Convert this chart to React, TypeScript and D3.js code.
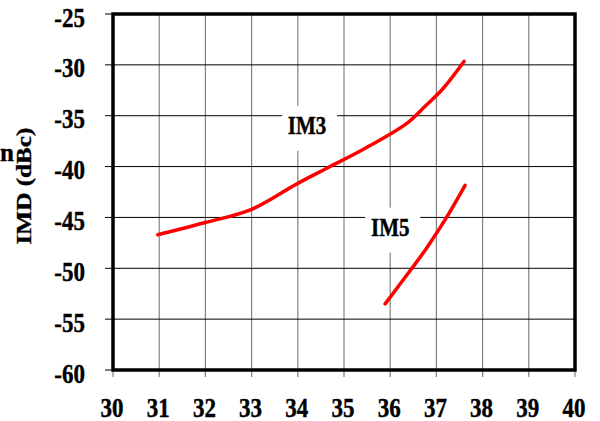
import React, { useRef, useEffect } from 'react';
import * as d3 from 'd3';

// Data
const xTicks = [30, 31, 32, 33, 34, 35, 36, 37, 38, 39, 40];
const yTicks = [-25, -30, -35, -40, -45, -50, -55, -60];

const im3X = [30.97, 32.0, 33.0, 33.98, 34.7, 35.38, 36.36, 36.75, 37.15, 37.6];
const im3Y = [-46.7, -45.5, -44.2, -41.7, -40.0, -38.4, -35.75, -34.1, -32.3, -29.65];

const im5X = [35.89, 36.47, 36.79, 37.22, 37.62];
const im5Y = [-53.5, -50.0, -48.0, -45.0, -41.85];

const seriesLabels = [
  { text: 'IM3', x: 34.2, y: -36.0 },
  { text: 'IM5', x: 36.0, y: -46.0 },
];

const FONT = '"Liberation Serif", "Times New Roman", serif';

const App: React.FC = () => {
  const svgRef = useRef<SVGSVGElement>(null);

  useEffect(() => {
    if (!svgRef.current) return;
    const svg = d3.select(svgRef.current);
    svg.selectAll('*').remove();

    const margin = { top: 14, right: 25, bottom: 51, left: 113 };
    const width = 600 - margin.left - margin.right;
    const height = 421 - margin.top - margin.bottom;

    const x = d3.scaleLinear().domain([30, 40]).range([0, width]);
    const y = d3.scaleLinear().domain([-60, -25]).range([height, 0]);

    const g = svg.append('g').attr('transform', `translate(${margin.left},${margin.top})`);

    // grid (extends past the frame as tick marks)
    g.selectAll('.vgrid')
      .data(xTicks)
      .enter()
      .append('line')
      .attr('x1', d => x(d))
      .attr('x2', d => x(d))
      .attr('y1', 0)
      .attr('y2', height + 7)
      .attr('stroke', '#808080')
      .attr('stroke-width', 1.2);

    g.selectAll('.hgrid')
      .data(yTicks)
      .enter()
      .append('line')
      .attr('x1', -8)
      .attr('x2', width)
      .attr('y1', d => y(d))
      .attr('y2', d => y(d))
      .attr('stroke', '#000')
      .attr('stroke-width', 1);

    const boldText = (sel: d3.Selection<SVGTextElement, any, any, any>, size: number) =>
      sel.attr('font-family', FONT)
        .attr('font-weight', 'bold')
        .attr('font-size', `${size}px`)
        .attr('fill', '#000')
        .attr('stroke', '#000')
        .attr('stroke-width', 0.35);

    // series labels with white boxes (text is stretched vertically like the source)
    seriesLabels.forEach(l => {
      const cx = x(l.x);
      const cy = y(l.y);
      g.append('rect')
        .attr('x', cx - 25)
        .attr('y', cy - 20)
        .attr('width', 55)
        .attr('height', 45)
        .attr('fill', '#fff');
      boldText(
        g.append('text')
          .attr('transform', `translate(${cx},${cy + 8}) scale(1,1.2)`)
          .attr('text-anchor', 'middle'),
        21
      ).text(l.text);
    });

    // curves
    const line = d3.line<[number, number]>()
      .x(d => x(d[0]))
      .y(d => y(d[1]))
      .curve(d3.curveCatmullRom.alpha(0.5));

    [[im3X, im3Y], [im5X, im5Y]].forEach(([xs, ys]) => {
      const pts = xs.map((v, i) => [v, ys[i]] as [number, number]);
      g.append('path')
        .attr('d', line(pts))
        .attr('fill', 'none')
        .attr('stroke', '#ff0000')
        .attr('stroke-width', 3.5)
        .attr('stroke-linecap', 'round')
        .attr('stroke-linejoin', 'round');
    });

    // tick labels
    boldText(
      g.selectAll('.xlab')
        .data(xTicks)
        .enter()
        .append('text')
        .attr('transform', d => `translate(${x(d) - 1},${height + 47}) scale(1,1.2)`)
        .attr('text-anchor', 'middle') as any,
      23
    ).text((d: number) => String(d));

    boldText(
      g.selectAll('.ylab')
        .data(yTicks)
        .enter()
        .append('text')
        .attr('transform', d => `translate(-28,${y(d) + 12.5}) scale(1,1.2)`)
        .attr('text-anchor', 'end') as any,
      23
    ).text((d: number) => String(d));

    // frame
    g.append('rect')
      .attr('x', 0)
      .attr('y', 0)
      .attr('width', width)
      .attr('height', height)
      .attr('fill', 'none')
      .attr('stroke', '#000')
      .attr('stroke-width', 3.5);

    // axis title
    boldText(
      svg.append('text')
        .attr('transform', `translate(31,186) rotate(-90) scale(1.2,1)`)
        .attr('text-anchor', 'middle'),
      21
    ).text('IMD (dBc)');

    // fragment of an outer label at the left edge
    boldText(
      svg.append('text')
        .attr('x', 0)
        .attr('y', 161),
      25
    ).text('n');
  }, []);

  return (
    <div style={{ position: 'absolute', left: 0, top: 0 }}>
      <svg ref={svgRef} width={600} height={421} style={{ display: 'block', background: '#fff' }}></svg>
    </div>
  );
};

export default App;
